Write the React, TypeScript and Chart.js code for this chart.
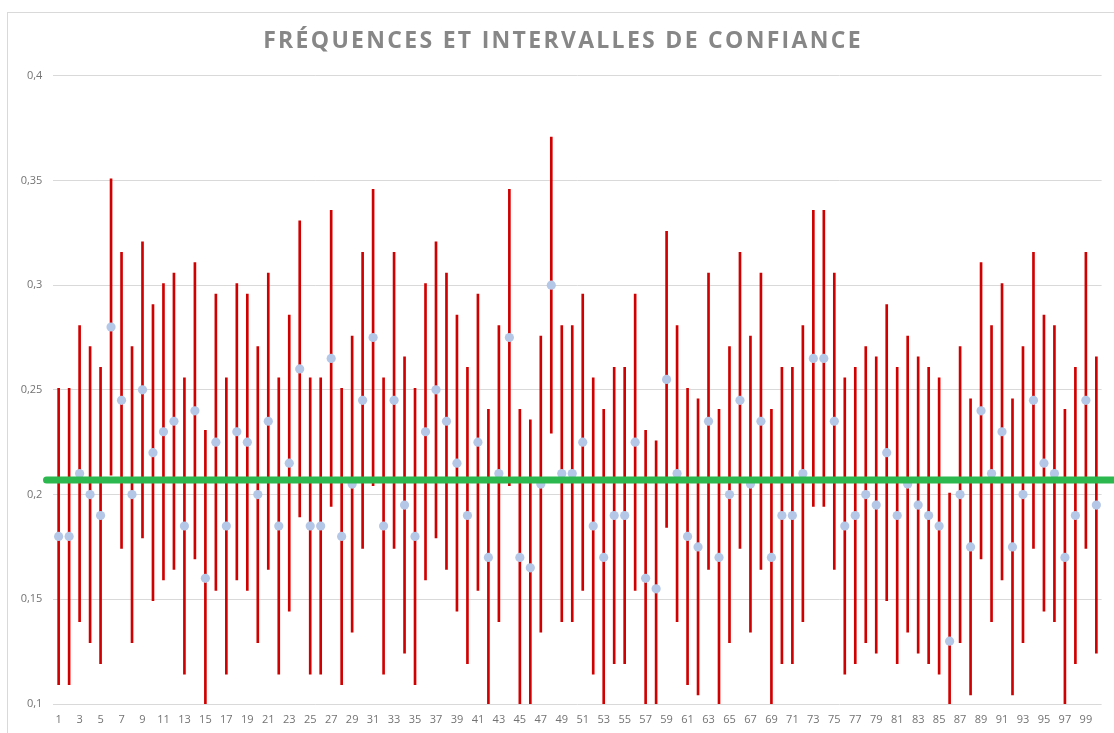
import React, { useEffect, useRef } from "react";
import { Chart, registerables } from "chart.js";

Chart.register(...registerables);

const TITLE = "FRÉQUENCES ET INTERVALLES DE CONFIANCE";

const categories: string[] = Array.from({ length: 100 }, (_, i) => String(i + 1));

const frequencies: number[] = [
  0.18, 0.18, 0.21, 0.2, 0.19, 0.28, 0.245, 0.2, 0.25, 0.22,
  0.23, 0.235, 0.185, 0.24, 0.16, 0.225, 0.185, 0.23, 0.225, 0.2,
  0.235, 0.185, 0.215, 0.26, 0.185, 0.185, 0.265, 0.18, 0.205, 0.245,
  0.275, 0.185, 0.245, 0.195, 0.18, 0.23, 0.25, 0.235, 0.215, 0.19,
  0.225, 0.17, 0.21, 0.275, 0.17, 0.165, 0.205, 0.3, 0.21, 0.21,
  0.225, 0.185, 0.17, 0.19, 0.19, 0.225, 0.16, 0.155, 0.255, 0.21,
  0.18, 0.175, 0.235, 0.17, 0.2, 0.245, 0.205, 0.235, 0.17, 0.19,
  0.19, 0.21, 0.265, 0.265, 0.235, 0.185, 0.19, 0.2, 0.195, 0.22,
  0.19, 0.205, 0.195, 0.19, 0.185, 0.13, 0.2, 0.175, 0.24, 0.21,
  0.23, 0.175, 0.2, 0.245, 0.215, 0.21, 0.17, 0.19, 0.245, 0.195,
];

// sample size of each draw: interval = f ± 1/sqrt(n)
const sampleSize = 200;
const referenceValue = 0.207;

const yTicks: number[] = [0.1, 0.15, 0.2, 0.25, 0.3, 0.35, 0.4];

const halfWidth = 1 / Math.sqrt(sampleSize);
const intervals = frequencies.map((f) => [f - halfWidth, f + halfWidth]);

const refLinePlugin = {
  id: "refLine",
  afterDatasetsDraw(chart: any) {
    const { ctx } = chart;
    const y = chart.scales.y.getPixelForValue(referenceValue);
    ctx.save();
    ctx.strokeStyle = "#2DB84F";
    ctx.lineWidth = 7;
    ctx.lineCap = "round";
    ctx.beginPath();
    ctx.moveTo(46.5, y);
    ctx.lineTo(chart.width + 10, y);
    ctx.stroke();
    ctx.restore();
  },
};

const titlePlugin = {
  id: "customTitle",
  afterDraw(chart: any) {
    const { ctx } = chart;
    ctx.save();
    ctx.font = "bold 23px 'Open Sans'";
    (ctx as any).letterSpacing = "2.3px";
    ctx.fillStyle = "#878787";
    ctx.textAlign = "center";
    ctx.textBaseline = "alphabetic";
    ctx.fillText(TITLE, 563, 48);
    ctx.restore();
  },
};

export default function App() {
  const ref = useRef<HTMLCanvasElement | null>(null);

  useEffect(() => {
    if (!ref.current) return;
    const chart = new Chart(ref.current, {
      type: "bar",
      data: {
        labels: categories,
        datasets: [
          {
            type: "line",
            label: "Fréquence",
            data: frequencies,
            showLine: false,
            pointRadius: 4.6,
            pointBackgroundColor: "#B4C7E7",
            pointBorderWidth: 0,
            order: 0,
          } as any,
          {
            type: "bar",
            label: "Intervalle",
            data: intervals as any,
            backgroundColor: "#D00000",
            barThickness: 2,
            order: 1,
          },
        ],
      },
      plugins: [refLinePlugin, titlePlugin],
      options: {
        animation: false,
        responsive: false,
        layout: { padding: { left: 0, right: 12.4, top: 75.7, bottom: 0 } },
        plugins: {
          legend: { display: false },
          title: { display: false },
          tooltip: { enabled: false },
        },
        scales: {
          x: {
            offset: true,
            grid: { display: false, drawTicks: false },
            border: { display: false },
            ticks: {
              autoSkip: false,
              maxRotation: 0,
              minRotation: 0,
              padding: 9,
              color: "#737373",
              font: { family: "'Open Sans'", size: 11 },
              callback: (_v: any, i: number) => (i % 2 === 0 ? categories[i] : ""),
            },
            afterFit: (s: any) => {
              s.height = 29;
            },
          },
          y: {
            min: 0.1,
            max: 0.4,
            afterBuildTicks: (s: any) => {
              s.ticks = yTicks.map((v) => ({ value: v }));
            },
            grid: { color: "#D9D9D9", lineWidth: 1, drawTicks: false },
            border: { display: false },
            ticks: {
              padding: 11,
              color: "#737373",
              font: { family: "'Open Sans'", size: 11 },
              callback: (v: any) => String(Math.round(Number(v) * 100) / 100).replace(".", ","),
            },
            afterFit: (s: any) => {
              s.width = 53.4;
            },
          },
        },
      },
    });
    return () => chart.destroy();
  }, []);

  return (
    <div
      style={{
        position: "fixed",
        left: 0,
        top: 0,
        width: 1114,
        height: 733,
        overflow: "hidden",
        background: "#fff",
      }}
    >
      <div
        style={{
          position: "absolute",
          left: 7,
          top: 12,
          width: 1200,
          height: 800,
          border: "1px solid #D9D9D9",
        }}
      />
      <canvas
        ref={ref}
        width={1114}
        height={733}
        style={{ position: "absolute", left: 0, top: 0 }}
      />
    </div>
  );
}
